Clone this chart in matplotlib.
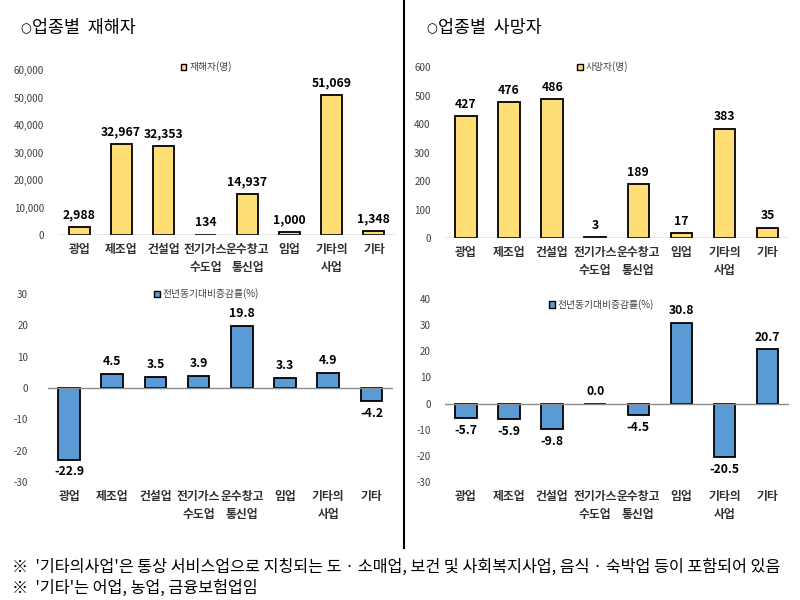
import matplotlib
matplotlib.use("Agg")
import matplotlib.pyplot as plt
from matplotlib.patches import Patch
from matplotlib.ticker import FuncFormatter

plt.rcParams['font.family'] = ['Noto Sans CJK KR', 'DejaVu Sans']

categories = ['광업', '제조업', '건설업', '전기가스\n수도업', '운수창고\n통신업', '임업', '기타의\n사업', '기타']
injured = [2988, 32967, 32353, 134, 14937, 1000, 51069, 1348]
injured_change = [-22.9, 4.5, 3.5, 3.9, 19.8, 3.3, 4.9, -4.2]
deaths = [427, 476, 486, 3, 189, 17, 383, 35]
deaths_change = [-5.7, -5.9, -9.8, 0.0, -4.5, 30.8, -20.5, 20.7]

title_left = '업종별  재해자'
title_right = '업종별  사망자'
legend_injured = '재해자(명)'
legend_deaths = '사망자(명)'
legend_change = '전년동기대비증감률(%)'
notes = ["※  '기타의사업'은 통상 서비스업으로 지칭되는 도 · 소매업, 보건 및 사회복지사업, 음식 · 숙박업 등이 포함되어 있음",
         "※  '기타'는 어업, 농업, 금융보험업임"]

YELLOW = '#FFDE75'
BLUE = '#5B9BD5'
TICK_COLOR = '#404040'

fig = plt.figure(figsize=(8, 6), dpi=100)
fig.patch.set_facecolor('white')

def px(l, b, r, t):
    return [l / 800, 1 - b / 600, (r - l) / 800, (b - t) / 600]

def make_axes(rect, values, color, ylim, yticks, fmt, legend_label, legend_pos, pad):
    ax = fig.add_axes(rect)
    x = list(range(len(categories)))
    ax.bar(x, values, width=0.5, color=color, edgecolor='black', linewidth=1.3, zorder=3)
    ax.set_xlim(-0.5, len(categories) - 0.5)
    ax.set_ylim(*ylim)
    ax.set_yticks(yticks)
    ax.yaxis.set_major_formatter(FuncFormatter(fmt))
    for s in ax.spines.values():
        s.set_visible(False)
    ax.axhline(0, color='#8c8c8c', linewidth=1.0, zorder=4)
    ax.set_xticks(x)
    ax.set_xticklabels(categories, fontsize=8.5, fontweight='bold', color='#303030', linespacing=1.45)
    ax.tick_params(axis='x', length=0, pad=6)
    ax.tick_params(axis='y', length=0, pad=pad, labelsize=7, labelcolor=TICK_COLOR)
    for xi, v in zip(x, values):
        if isinstance(v, int):
            lab = f'{v:,}'
        else:
            lab = f'{v:.1f}'
        if v >= 0:
            ax.annotate(lab, (xi, v), xytext=(0, 4), textcoords='offset points',
                        ha='center', va='bottom', fontsize=8.8, fontweight='bold', color='black')
        else:
            ax.annotate(lab, (xi, v), xytext=(0, -4), textcoords='offset points',
                        ha='center', va='top', fontsize=8.8, fontweight='bold', color='black')
    h = Patch(facecolor=color, edgecolor='black', linewidth=1.0)
    ax.legend([h], [legend_label], loc='center', bbox_to_anchor=legend_pos, frameon=False,
              fontsize=7, handlelength=0.6, handleheight=0.6, handletextpad=0.3,
              labelcolor='#404040')
    return ax

make_axes(px(58, 235, 395, 70), injured, YELLOW, (0, 60000), range(0, 60001, 10000),
          lambda v, p: f'{int(v):,}', legend_injured, (0.44, 1.02), 10)
make_axes(px(444.5, 238, 789, 67), deaths, YELLOW, (0, 600), range(0, 601, 100),
          lambda v, p: f'{int(v)}', legend_deaths, (0.46, 1.0), 10)
make_axes(px(47.5, 482, 393, 294), injured_change, BLUE, (-30, 30), range(-30, 31, 10),
          lambda v, p: f'{int(v)}', legend_change, (0.46, 1.0), 14)
make_axes(px(444.5, 482, 789, 299), deaths_change, BLUE, (-30, 40), range(-30, 41, 10),
          lambda v, p: f'{int(v)}', legend_change, (0.455, 0.97), 10)

# titles: small circle + text
for x0, t in [(20, title_left), (426, title_right)]:
    fig.text(x0 / 800, 1 - 29 / 600, '○', fontsize=9, va='center', ha='left', color='black',
             family='DejaVu Sans')
    fig.text((x0 + 12) / 800, 1 - 28 / 600, t, fontsize=12.5, va='center', ha='left', color='black')

fig.add_artist(plt.Line2D([404 / 800, 404 / 800], [1.0, 1 - 548 / 600], color='black', linewidth=1.5))

fig.text(12 / 800, 1 - 567 / 600, notes[0], fontsize=11.7, va='center', ha='left', color='black')
fig.text(12 / 800, 1 - 588 / 600, notes[1], fontsize=11.7, va='center', ha='left', color='black')

fig.savefig('out.png', dpi=100, facecolor='white')
